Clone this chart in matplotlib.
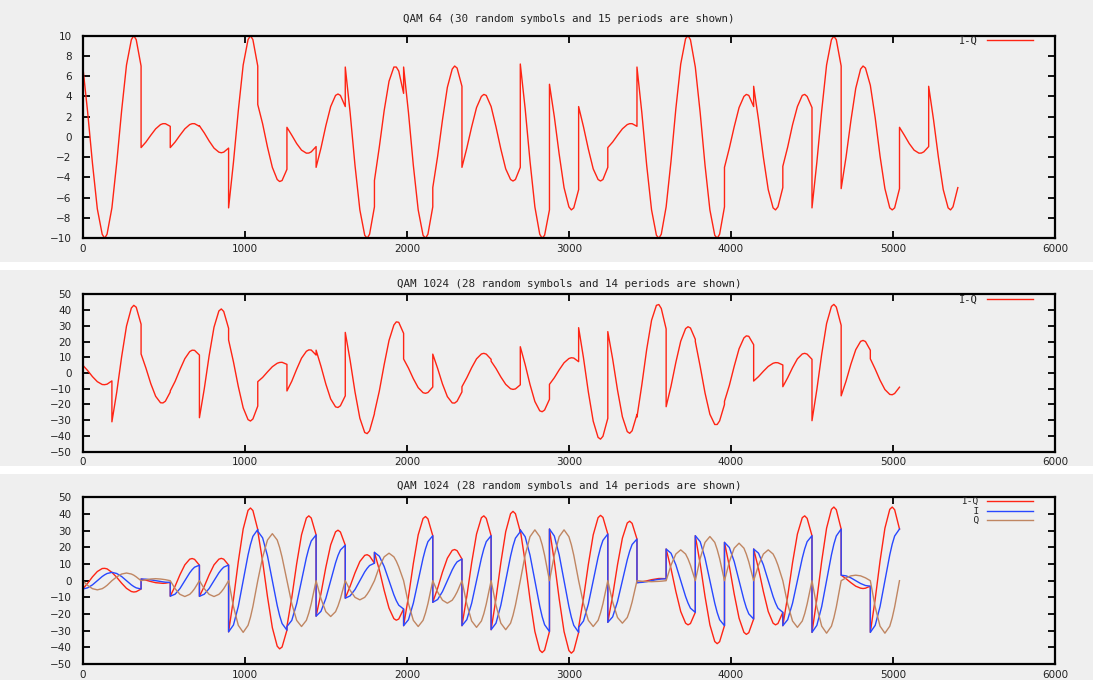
"""QAM I-Q waveforms, three gnuplot-style panels."""

import matplotlib

matplotlib.use("Agg")
import matplotlib.pyplot as plt
from matplotlib.patches import Rectangle

# one symbol lasts 180 samples; each row below holds the curve read at these offsets
SYMBOL_LEN = 180
SAMPLE_OFFSETS = [0, 30, 60, 90, 120, 135, 150, 180]

# --- panel 1: QAM 64, I-Q ---
TOP_IQ = [
    [7.0, 2.5, -2.6, -7.1, -9.6, -10.0, -9.6, -7.0],
    [-7.0, -2.5, 2.6, 7.1, 9.6, 10.0, 9.6, 7.0],
    [-1.05, -0.5, 0.17, 0.8, 1.22, 1.31, 1.31, 1.05],
    [-1.05, -0.5, 0.17, 0.8, 1.22, 1.31, 1.31, 1.05],
    [1.1, 0.4, -0.4, -1.1, -1.5, -1.56, -1.5, -1.1],
    [-7.0, -2.5, 2.6, 7.1, 9.6, 10.0, 9.6, 7.0],
    [3.2, 1.3, -1.0, -3.0, -4.2, -4.4, -4.3, -3.2],
    [0.95, 0.17, -0.65, -1.3, -1.6, -1.59, -1.47, -0.95],
    [-3.0, -1.1, 1.1, 3.0, 4.1, 4.24, 4.1, 3.0],
    [6.9, 2.4, -2.8, -7.2, -9.7, -10.0, -9.6, -6.9],
    [-4.3, -1.0, 2.6, 5.5, 6.9, 6.9, 6.5, 4.3],
    [6.9, 2.4, -2.8, -7.2, -9.7, -10.0, -9.6, -6.9],
    [-5.0, -1.9, 1.7, 4.9, 6.7, 7.0, 6.8, 5.0],
    [-3.0, -1.1, 1.0, 2.9, 4.0, 4.2, 4.1, 3.0],
    [3.0, 1.0, -1.2, -3.15, -4.2, -4.35, -4.2, -3.0],
    [7.2, 2.8, -2.4, -6.9, -9.6, -10.0, -9.7, -7.2],
    [5.2, 2.0, -1.7, -5.0, -6.9, -7.2, -7.0, -5.2],
    [3.0, 1.0, -1.2, -3.15, -4.2, -4.35, -4.2, -3.0],
    [-1.05, -0.5, 0.17, 0.8, 1.22, 1.31, 1.31, 1.05],
    [6.9, 2.4, -2.8, -7.2, -9.7, -10.0, -9.6, -6.9],
    [-6.9, -2.4, 2.8, 7.2, 9.7, 10.0, 9.6, 6.9],
    [6.9, 2.4, -2.8, -7.2, -9.7, -10.0, -9.6, -6.9],
    [-3.0, -1.1, 1.0, 2.9, 4.0, 4.2, 4.1, 3.0],
    [5.0, 1.7, -2.0, -5.2, -7.0, -7.2, -6.9, -5.0],
    [-2.9, -1.0, 1.2, 3.0, 4.1, 4.2, 4.0, 2.9],
    [-7.0, -2.5, 2.6, 7.1, 9.6, 9.95, 9.6, 7.0],
    [-5.1, -2.0, 1.6, 4.8, 6.7, 7.0, 6.8, 5.1],
    [5.1, 1.9, -1.9, -5.1, -7.0, -7.2, -7.0, -5.1],
    [0.95, 0.17, -0.65, -1.3, -1.6, -1.59, -1.47, -0.95],
    [5.0, 1.7, -2.0, -5.2, -7.0, -7.2, -6.9, -5.0],
]

# --- panel 2: QAM 1024, I-Q ---
MID_IQ = [
    [5.0, 1.6, -2.3, -5.5, -7.3, -7.4, -7.1, -5.0],
    [-31.0, -12.0, 10.3, 29.8, 41.3, 43.0, 41.8, 31.0],
    [12.1, 3.1, -6.8, -14.8, -18.9, -19.0, -17.9, -12.1],
    [-11.4, -5.3, 2.2, 9.1, 13.6, 14.5, 14.4, 11.4],
    [-28.4, -10.0, 11.0, 29.1, 39.4, 40.7, 39.1, 28.4],
    [21.0, 7.1, -8.6, -22.1, -29.6, -30.5, -29.2, -21.0],
    [-5.5, -2.8, 0.7, 4.0, 6.2, 6.7, 6.8, 5.5],
    [-11.4, -5.2, 2.4, 9.4, 13.8, 14.7, 14.6, 11.4],
    [14.5, 4.3, -7.0, -16.5, -21.5, -21.9, -20.8, -14.5],
    [25.8, 8.0, -12.0, -28.7, -37.8, -38.5, -36.7, -25.8],
    [-25.2, -11.5, 5.3, 20.7, 30.5, 32.5, 32.2, 25.2],
    [8.9, 3.1, -3.6, -9.3, -12.5, -12.9, -12.4, -8.9],
    [12.0, 2.9, -7.0, -15.0, -19.0, -19.1, -17.9, -12.0],
    [-8.7, -3.0, 3.4, 9.0, 12.1, 12.5, 12.0, 8.7],
    [7.5, 2.9, -2.5, -7.2, -10.0, -10.4, -10.1, -7.5],
    [16.7, 5.4, -7.3, -18.1, -24.0, -24.6, -23.5, -16.7],
    [-7.2, -3.0, 2.0, 6.5, 9.2, 9.7, 9.5, 7.2],
    [28.8, 9.6, -12.1, -30.6, -40.9, -42.0, -40.2, -28.8],
    [26.3, 8.9, -10.9, -27.8, -37.2, -38.3, -36.7, -26.3],
    [-28.0, -7.5, 15.0, 33.5, 43.0, 43.5, 41.0, 28.0],
    [-21.4, -8.4, 6.8, 20.2, 28.2, 29.4, 28.6, 21.4],
    [20.0, 4.2, -12.7, -26.2, -32.7, -32.7, -30.4, -20.0],
    [-18.0, -7.9, 4.3, 15.4, 22.3, 23.6, 23.3, 18.0],
    [-5.1, -2.3, 1.1, 4.2, 6.2, 6.6, 6.5, 5.1],
    [-8.7, -3.0, 3.4, 9.0, 12.1, 12.5, 12.0, 8.7],
    [-30.3, -10.5, 12.0, 31.4, 42.3, 43.6, 41.9, 30.3],
    [-14.5, -5.2, 5.6, 14.8, 20.1, 20.7, 20.0, 14.5],
    [9.0, 2.5, -4.6, -10.5, -13.6, -13.8, -13.0, -9.0],
]

# --- panel 3: QAM 1024, I-Q / I / Q ---
BOT_IQ = [
    [-5.0, -1.6, 2.3, 5.5, 7.3, 7.4, 7.1, 5.0],
    [5.0, 2.0, -1.5, -4.6, -6.5, -6.8, -6.6, -5.0],
    [1.0, 0.3, -0.5, -1.2, -1.5, -1.6, -1.5, -1.0],
    [-9.3, -3.3, 3.6, 9.5, 12.9, 13.3, 12.8, 9.3],
    [-9.4, -3.4, 3.5, 9.5, 12.9, 13.4, 12.9, 9.4],
    [-30.7, -11.1, 11.5, 31.0, 42.2, 43.6, 42.1, 30.7],
    [29.7, 11.6, -9.6, -28.2, -39.3, -40.9, -39.8, -29.7],
    [-27.5, -10.1, 10.1, 27.5, 37.6, 38.9, 37.6, 27.5],
    [-21.3, -7.7, 8.0, 21.5, 29.3, 30.3, 29.2, 21.3],
    [-10.5, -3.3, 4.7, 11.5, 15.2, 15.6, 14.8, 10.5],
    [17.0, 6.5, -5.8, -16.5, -22.8, -23.7, -23.0, -17.0],
    [-27.0, -9.6, 10.3, 27.5, 37.3, 38.5, 37.1, 27.0],
    [-13.0, -4.5, 5.2, 13.5, 18.2, 18.7, 18.0, 13.0],
    [-27.0, -9.4, 10.8, 28.0, 37.8, 38.9, 37.4, 27.0],
    [-29.4, -10.8, 10.8, 29.4, 40.2, 41.6, 40.2, 29.4],
    [30.5, 11.2, -11.2, -30.5, -41.7, -43.1, -41.7, -30.5],
    [31.0, 11.6, -10.9, -30.5, -41.9, -43.5, -42.1, -31.0],
    [-28.0, -10.5, 9.8, 27.5, 37.8, 39.2, 38.0, 28.0],
    [-25.0, -8.9, 9.6, 25.5, 34.6, 35.7, 34.4, 25.0],
    [-1.2, -0.7, -0.1, 0.6, 1.1, 1.3, 1.3, 1.2],
    [19.0, 7.2, -6.5, -18.5, -25.5, -26.5, -25.7, -19.0],
    [27.0, 10.1, -9.5, -26.5, -36.5, -37.8, -36.6, -27.0],
    [23.0, 8.7, -8.0, -22.5, -31.0, -32.2, -31.2, -23.0],
    [19.0, 7.2, -6.5, -18.5, -25.5, -26.5, -25.7, -19.0],
    [-27.0, -9.4, 10.8, 28.0, 37.8, 38.9, 37.4, 27.0],
    [-31.0, -11.1, 11.8, 31.5, 42.8, 44.2, 42.6, 31.0],
    [3.3, 1.2, -1.2, -3.3, -4.5, -4.7, -4.5, -3.3],
    [-31.0, -11.1, 11.8, 31.5, 42.8, 44.2, 42.6, 31.0],
]

BOT_I = [
    [-5.0, -4.3, -2.5, 0.0, 2.5, 3.5, 4.3, 5.0],
    [5.0, 4.3, 2.5, 0.0, -2.5, -3.5, -4.3, -5.0],
    [1.0, 0.9, 0.5, 0.0, -0.5, -0.7, -0.9, -1.0],
    [-9.3, -8.1, -4.7, 0.0, 4.7, 6.6, 8.1, 9.3],
    [-9.4, -8.1, -4.7, 0.0, 4.7, 6.6, 8.1, 9.4],
    [-30.7, -26.6, -15.4, 0.0, 15.4, 21.7, 26.6, 30.7],
    [29.7, 25.7, 14.9, 0.0, -14.9, -21.0, -25.7, -29.7],
    [-27.5, -23.8, -13.8, 0.0, 13.8, 19.4, 23.8, 27.5],
    [-21.3, -18.4, -10.7, 0.0, 10.7, 15.1, 18.4, 21.3],
    [-10.5, -9.1, -5.3, 0.0, 5.3, 7.4, 9.1, 10.5],
    [17.0, 14.7, 8.5, 0.0, -8.5, -12.0, -14.7, -17.0],
    [-27.0, -23.4, -13.5, 0.0, 13.5, 19.1, 23.4, 27.0],
    [-13.0, -11.3, -6.5, 0.0, 6.5, 9.2, 11.3, 13.0],
    [-27.0, -23.4, -13.5, 0.0, 13.5, 19.1, 23.4, 27.0],
    [-29.4, -25.5, -14.7, 0.0, 14.7, 20.8, 25.5, 29.4],
    [30.5, 26.4, 15.3, 0.0, -15.3, -21.6, -26.4, -30.5],
    [31.0, 26.8, 15.5, 0.0, -15.5, -21.9, -26.8, -31.0],
    [-28.0, -24.2, -14.0, 0.0, 14.0, 19.8, 24.2, 28.0],
    [-25.0, -21.7, -12.5, 0.0, 12.5, 17.7, 21.7, 25.0],
    [-1.2, -1.0, -0.6, 0.0, 0.6, 0.8, 1.0, 1.2],
    [19.0, 16.5, 9.5, 0.0, -9.5, -13.4, -16.5, -19.0],
    [27.0, 23.4, 13.5, 0.0, -13.5, -19.1, -23.4, -27.0],
    [23.0, 19.9, 11.5, 0.0, -11.5, -16.3, -19.9, -23.0],
    [19.0, 16.5, 9.5, 0.0, -9.5, -13.4, -16.5, -19.0],
    [-27.0, -23.4, -13.5, 0.0, 13.5, 19.1, 23.4, 27.0],
    [-31.0, -26.8, -15.5, 0.0, 15.5, 21.9, 26.8, 31.0],
    [3.3, 2.9, 1.7, 0.0, -1.7, -2.3, -2.9, -3.3],
    [-31.0, -26.8, -15.5, 0.0, 15.5, 21.9, 26.8, 31.0],
]

BOT_Q = [
    [0.0, -2.8, -4.8, -5.5, -4.8, -3.9, -2.8, 0.0],
    [0.0, 2.3, 4.0, 4.6, 4.0, 3.3, 2.3, 0.0],
    [0.0, 0.6, 1.0, 1.2, 1.0, 0.8, 0.6, 0.0],
    [0.0, -4.8, -8.2, -9.5, -8.2, -6.7, -4.8, 0.0],
    [0.0, -4.8, -8.2, -9.5, -8.2, -6.7, -4.8, 0.0],
    [0.0, -15.5, -26.8, -31.0, -26.8, -21.9, -15.5, 0.0],
    [0.0, 14.1, 24.4, 28.2, 24.4, 19.9, 14.1, 0.0],
    [0.0, -13.8, -23.8, -27.5, -23.8, -19.4, -13.8, 0.0],
    [0.0, -10.8, -18.6, -21.5, -18.6, -15.2, -10.8, 0.0],
    [0.0, -5.8, -10.0, -11.5, -10.0, -8.1, -5.8, 0.0],
    [0.0, 8.3, 14.3, 16.5, 14.3, 11.7, 8.3, 0.0],
    [0.0, -13.8, -23.8, -27.5, -23.8, -19.4, -13.8, 0.0],
    [0.0, -6.8, -11.7, -13.5, -11.7, -9.5, -6.8, 0.0],
    [0.0, -14.0, -24.2, -28.0, -24.2, -19.8, -14.0, 0.0],
    [0.0, -14.7, -25.5, -29.4, -25.5, -20.8, -14.7, 0.0],
    [0.0, 15.3, 26.4, 30.5, 26.4, 21.6, 15.3, 0.0],
    [0.0, 15.3, 26.4, 30.5, 26.4, 21.6, 15.3, 0.0],
    [0.0, -13.8, -23.8, -27.5, -23.8, -19.4, -13.8, 0.0],
    [0.0, -12.8, -22.1, -25.5, -22.1, -18.0, -12.8, 0.0],
    [0.0, -0.3, -0.5, -0.6, -0.5, -0.4, -0.3, 0.0],
    [0.0, 9.3, 16.0, 18.5, 16.0, 13.1, 9.3, 0.0],
    [0.0, 13.3, 23.0, 26.5, 23.0, 18.7, 13.3, 0.0],
    [0.0, 11.3, 19.5, 22.5, 19.5, 15.9, 11.3, 0.0],
    [0.0, 9.3, 16.0, 18.5, 16.0, 13.1, 9.3, 0.0],
    [0.0, -14.0, -24.2, -28.0, -24.2, -19.8, -14.0, 0.0],
    [0.0, -15.8, -27.3, -31.5, -27.3, -22.3, -15.8, 0.0],
    [0.0, 1.7, 2.9, 3.3, 2.9, 2.3, 1.7, 0.0],
    [0.0, -15.8, -27.3, -31.5, -27.3, -22.3, -15.8, 0.0],
]

TITLES = [
    "QAM 64 (30 random symbols and 15 periods are shown)",
    "QAM 1024 (28 random symbols and 14 periods are shown)",
    "QAM 1024 (28 random symbols and 14 periods are shown)",
]
X_TICKS = [0, 1000, 2000, 3000, 4000, 5000, 6000]
TOP_Y_TICKS = [-10, -8, -6, -4, -2, 0, 2, 4, 6, 8, 10]
QAM1024_Y_TICKS = [-50, -40, -30, -20, -10, 0, 10, 20, 30, 40, 50]

BG = "#efefef"
RED = "#ff2414"
BLUE = "#2848ff"
BROWN = "#c08662"
MONO = "DejaVu Sans Mono"


def symbol_trace(rows):
    xs, ys = [], []
    for k, row in enumerate(rows):
        xs.extend(k * SYMBOL_LEN + off for off in SAMPLE_OFFSETS)
        ys.extend(row)
    return xs, ys


def style_axes(ax, yticks, title, title_pad):
    ax.set_facecolor(BG)
    ax.set_xlim(X_TICKS[0], X_TICKS[-1])
    ax.set_ylim(yticks[0], yticks[-1])
    ax.set_xticks(X_TICKS)
    ax.set_yticks(yticks)
    ax.tick_params(axis="both", direction="in", top=True, right=True,
                   length=5, width=1.3, labelsize=7.5, colors="black",
                   labelcolor="#222222")
    ax.tick_params(axis="y", pad=8)
    ax.tick_params(axis="x", pad=4)
    for sp in ax.spines.values():
        sp.set_linewidth(1.6)
        sp.set_color("black")
    ax.set_title(title, fontfamily=MONO, fontsize=7.8, pad=title_pad,
                 color="#222222")


def add_legend(ax, size=7.5):
    leg = ax.legend(loc="upper right", bbox_to_anchor=(0.9774, 1.0),
                    frameon=False, markerfirst=False,
                    prop={"family": MONO, "size": size},
                    handlelength=4.4 * 7.5 / size, handletextpad=0.9,
                    labelspacing=0.05, borderpad=0.0, borderaxespad=0.0)
    for t in leg.get_texts():
        t.set_color("#222222")
    return leg


fig = plt.figure(figsize=(10.93, 6.80), dpi=100, facecolor="white")

# gnuplot panels sit on grey tiles with thin white gaps between them
for y0, h in [(0.6147, 0.3853), (0.3147, 0.2882), (0.0, 0.3029)]:
    fig.patches.append(Rectangle((0, y0), 1, h, transform=fig.transFigure,
                                 facecolor=BG, edgecolor="none", zorder=-10))

ax1 = fig.add_axes([0.0757, 0.6496, 0.8896, 0.2980])
ax2 = fig.add_axes([0.0757, 0.3357, 0.8896, 0.2315])
ax3 = fig.add_axes([0.0757, 0.0235, 0.8896, 0.2451])

x, y = symbol_trace(TOP_IQ)
ax1.plot(x, y, color=RED, lw=1.0, label="I-Q")
style_axes(ax1, TOP_Y_TICKS, TITLES[0], 9.5)
add_legend(ax1)

x, y = symbol_trace(MID_IQ)
ax2.plot(x, y, color=RED, lw=1.0, label="I-Q")
style_axes(ax2, QAM1024_Y_TICKS, TITLES[1], 5.5)
add_legend(ax2)

x, y = symbol_trace(BOT_IQ)
ax3.plot(x, y, color=RED, lw=1.0, label="I-Q")
x, y = symbol_trace(BOT_I)
ax3.plot(x, y, color=BLUE, lw=1.0, label="  I")
x, y = symbol_trace(BOT_Q)
ax3.plot(x, y, color=BROWN, lw=1.0, label="  Q")
style_axes(ax3, QAM1024_Y_TICKS, TITLES[2], 6.0)
add_legend(ax3, size=6.8)

fig.savefig("out.png", dpi=100, facecolor=fig.get_facecolor())
print("saved out.png")
